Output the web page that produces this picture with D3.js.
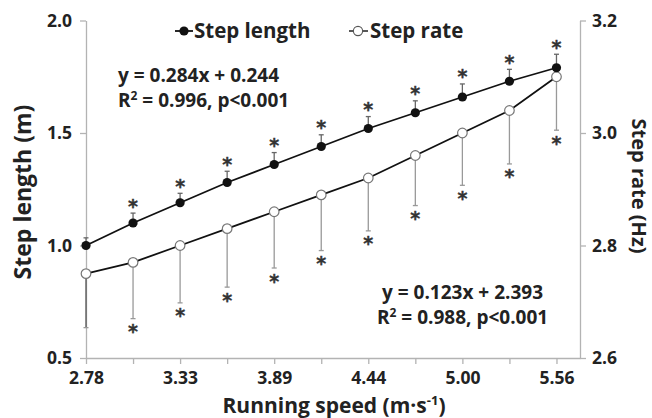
<!DOCTYPE html>
<html>
<head>
<meta charset="utf-8">
<script src="https://cdn.jsdelivr.net/npm/d3@7"></script>
<style>
	body { margin: 0; background: #fff; }
	svg { font-family: "Open Sans", "Noto Sans", sans-serif; font-weight: 700; }
	.axis path, .axis line { stroke: #b3b3b3; stroke-width: 1.3; }
	.axis text { fill: #222; font-size: 17.5px; font-weight: 700; font-family: "Open Sans", sans-serif; }
	.star { font-family: "DejaVu Sans", sans-serif; font-weight: 700; fill: #333; stroke: #333; stroke-width: 0.4; }
</style>
</head>
<body>
<div id="chart"></div>
<script>
// running speeds (m/s), every other one is labelled
const speeds = ["2.78", "3.06", "3.33", "3.61", "3.89", "4.17", "4.44", "4.72", "5.00", "5.28", "5.56"];
// step length (m) and SD
const stepLength = [1.00, 1.10, 1.19, 1.28, 1.36, 1.44, 1.52, 1.59, 1.66, 1.73, 1.79];
const stepLengthSD = [0.034, 0.044, 0.042, 0.050, 0.053, 0.052, 0.053, 0.053, 0.058, 0.053, 0.060];
const stepLengthSig = [false, true, true, true, true, true, true, true, true, true, true];
// step rate (Hz) and SD
const stepRate = [2.75, 2.77, 2.80, 2.83, 2.86, 2.89, 2.92, 2.96, 3.00, 3.04, 3.10];
const stepRateSD = [0.096, 0.100, 0.102, 0.104, 0.100, 0.099, 0.094, 0.089, 0.093, 0.095, 0.095];
const stepRateSig = [false, true, true, true, true, true, true, true, true, true, true];
// axis ticks
const leftTicks = [0.5, 1.0, 1.5, 2.0];
const rightTicks = [2.6, 2.8, 3.0, 3.2];

const width = 652;
const height = 418;
const margin = { top: 20.5, left: 86, right: 72, bottom: 60 };

const svg = d3.select("#chart").append("svg")
	.attr("width", width)
	.attr("height", height);

// scales: x is on the point index, half a step of room at the right
let x = d3.scaleLinear().domain([0, 10.5]).range([margin.left, width - margin.right]);
let yL = d3.scaleLinear().domain([0.5, 2.0]).range([height - margin.bottom, margin.top]);
let yR = d3.scaleLinear().domain([2.6, 3.2]).range([height - margin.bottom, margin.top]);

// axes
svg.append("g")
	.attr("class", "x-axis axis")
	.attr("transform", `translate(0,${height - margin.bottom})`)
	.call(d3.axisBottom(x)
		.tickValues(d3.range(speeds.length))
		.tickFormat(i => i % 2 === 0 ? speeds[i] : "")
		.tickSize(6).tickSizeOuter(0).tickPadding(8));

svg.append("g")
	.attr("class", "y-axis axis")
	.attr("transform", `translate(${margin.left},0)`)
	.call(d3.axisLeft(yL).tickValues(leftTicks).tickFormat(d3.format(".1f"))
		.tickSize(6).tickSizeOuter(0).tickPadding(8));

svg.append("g")
	.attr("class", "y-axis axis")
	.attr("transform", `translate(${width - margin.right},0)`)
	.call(d3.axisRight(yR).tickValues(rightTicks).tickFormat(d3.format(".1f"))
		.tickSize(6).tickSizeOuter(0).tickPadding(6));

// axis titles
svg.append("text")
	.attr("x", 334)
	.attr("y", 413)
	.attr("text-anchor", "middle")
	.attr("font-size", 21)
	.attr("fill", "#222")
	.html("Running speed (m·s<tspan dy='-8' font-size='13'>-1</tspan><tspan dy='8'>)</tspan>");

svg.append("text")
	.attr("transform", "translate(31,192) rotate(-90)")
	.attr("text-anchor", "middle")
	.attr("font-size", 23)
	.attr("fill", "#222")
	.text("Step length (m)");

svg.append("text")
	.attr("transform", "translate(632,186) rotate(90)")
	.attr("text-anchor", "middle")
	.attr("font-size", 20)
	.attr("fill", "#222")
	.text("Step rate (Hz)");

// asterisk (significance) as text, roughly centred on (cx, cy)
function star(cx, cy) {
	svg.append("text")
		.attr("class", "star")
		.attr("x", cx)
		.attr("y", cy + 10.5)
		.attr("text-anchor", "middle")
		.attr("font-size", 19)
		.text("*");
}

// ---- step rate: error bars down ----
stepRate.forEach((v, i) => {
	let y0 = yR(v), y1 = yR(v - stepRateSD[i]);
	svg.append("line").attr("x1", x(i)).attr("x2", x(i)).attr("y1", y0).attr("y2", y1)
		.attr("stroke", i === 0 ? "#555" : "#999").attr("stroke-width", 1.3);
	svg.append("line").attr("x1", x(i) - 2.5).attr("x2", x(i) + 2.5).attr("y1", y1).attr("y2", y1)
		.attr("stroke", "#999").attr("stroke-width", 1.3);
	if (stepRateSig[i]) star(x(i), y1 + 9);
});

// ---- step length: error bars up ----
stepLength.forEach((v, i) => {
	let y0 = yL(v), y1 = yL(v + stepLengthSD[i]);
	svg.append("line").attr("x1", x(i)).attr("x2", x(i)).attr("y1", y0).attr("y2", y1)
		.attr("stroke", "#666").attr("stroke-width", 1.3);
	svg.append("line").attr("x1", x(i) - 2.5).attr("x2", x(i) + 2.5).attr("y1", y1).attr("y2", y1)
		.attr("stroke", "#666").attr("stroke-width", 1.3);
	if (stepLengthSig[i]) star(x(i), y1 - 11);
});

let lineL = d3.line().x((d, i) => x(i)).y(d => yL(d));
let lineR = d3.line().x((d, i) => x(i)).y(d => yR(d));

svg.append("path").datum(stepRate).attr("d", lineR)
	.attr("fill", "none").attr("stroke", "#111").attr("stroke-width", 1.8);
svg.append("path").datum(stepLength).attr("d", lineL)
	.attr("fill", "none").attr("stroke", "#111").attr("stroke-width", 1.8);

svg.selectAll(".rate-dot").data(stepRate).enter().append("circle")
	.attr("class", "rate-dot")
	.attr("cx", (d, i) => x(i)).attr("cy", d => yR(d)).attr("r", 4.8)
	.attr("fill", "#fff").attr("stroke", "#777").attr("stroke-width", 1.2);

svg.selectAll(".length-dot").data(stepLength).enter().append("circle")
	.attr("class", "length-dot")
	.attr("cx", (d, i) => x(i)).attr("cy", d => yL(d)).attr("r", 4.6)
	.attr("fill", "#111");

// ---- legend ----
let legend = svg.append("g").attr("transform", "translate(175,31)");
legend.append("line").attr("x1", 0).attr("x2", 18).attr("stroke", "#111").attr("stroke-width", 1.8);
legend.append("circle").attr("cx", 9).attr("r", 4.6).attr("fill", "#111");
legend.append("text").attr("x", 19).attr("y", 7).attr("font-size", 20.5).attr("fill", "#222").text("Step length");

legend.append("line").attr("x1", 174).attr("x2", 193).attr("stroke", "#111").attr("stroke-width", 1.4);
legend.append("circle").attr("cx", 183).attr("r", 4.6).attr("fill", "#fff").attr("stroke", "#555").attr("stroke-width", 1.1);
legend.append("text").attr("x", 195).attr("y", 7).attr("font-size", 20.5).attr("fill", "#222").text("Step rate");

// ---- regression annotations ----
function note(x1, x2, ty, eq, r2) {
	let g = svg.append("g").attr("font-size", 19).attr("fill", "#222");
	g.append("text").attr("x", x1).attr("y", ty).text(eq);
	g.append("text").attr("x", x2).attr("y", ty + 25)
		.html(r2[0] + "<tspan dy='-7' font-size='12'>2</tspan><tspan dy='7'>" + r2[1] + "</tspan>");
}
note(118, 118, 82, "y = 0.284x + 0.244", ["R", " = 0.996, p<0.001"]);
note(382, 377, 299, "y = 0.123x + 2.393", ["R", " = 0.988, p<0.001"]);
</script>
</body>
</html>
